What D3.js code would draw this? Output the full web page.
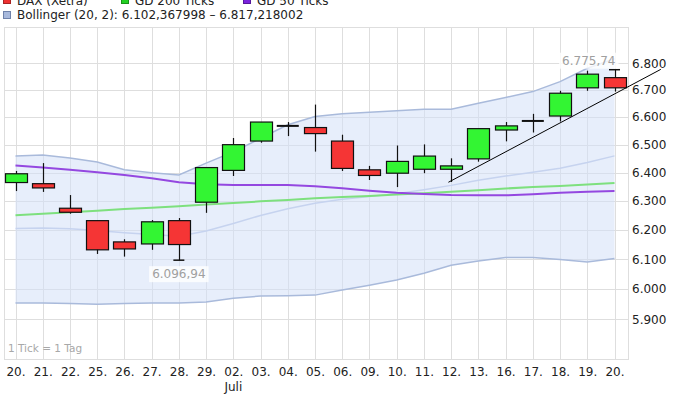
<!DOCTYPE html>
<html>
<head>
<meta charset="utf-8">
<script src="https://cdn.jsdelivr.net/npm/d3@7"></script>
<style>
  body { margin: 0; background: #fff; }
  svg { display: block; font-family: "DejaVu Sans", sans-serif; }
</style>
</head>
<body>
<div id="chart"></div>
<script>
// Trading days (20. Juni - 20. Juli)
const labels = ["20.", "21.", "22.", "25.", "26.", "27.", "28.", "29.", "02.", "03.", "04.", "05.",
                "06.", "09.", "10.", "11.", "12.", "13.", "16.", "17.", "18.", "19.", "20."];
const monthLabel = { index: 8, text: "Juli" };

// DAX candles
const open  = [6365, 6361, 6275, 6232, 6159, 6152, 6232, 6296, 6408, 6513, 6568, 6562,
               6513, 6410, 6398, 6412, 6412, 6449, 6553, 6586, 6604, 6708, 6746];
const high  = [6406, 6434, 6321, 6232, 6168, 6234, 6241, 6418, 6524, 6582, 6582, 6646,
               6536, 6424, 6497, 6501, 6451, 6558, 6582, 6612, 6697, 6772, 6775.74];
const low   = [6335, 6332, 6256, 6118, 6109, 6132, 6096.94, 6259, 6388, 6507, 6531, 6475,
               6406, 6374, 6349, 6398, 6367, 6439, 6512, 6544, 6584, 6697, 6694];
const close = [6396, 6346, 6261, 6132, 6135, 6228, 6150, 6418, 6500, 6582, 6568, 6540,
               6415, 6390, 6440, 6459, 6424, 6558, 6568, 6586, 6688, 6759, 6708];

// Bollinger (20, 2)
const bandUpper  = [6459, 6463, 6452, 6438, 6410, 6400, 6392, 6434, 6474, 6523, 6572, 6602,
                    6612, 6618, 6623, 6629, 6629, 6651, 6672, 6694, 6731, 6781, 6817.218002];
const bandMiddle = [6205, 6207, 6204, 6198, 6190, 6184, 6178, 6196, 6222, 6250, 6273, 6292,
                    6306, 6316, 6326, 6340, 6355, 6373, 6388, 6401, 6416, 6436, 6459.79];
const bandLower  = [5954, 5954, 5952, 5950, 5952, 5954, 5954, 5957, 5970, 5977, 5978, 5980,
                    5997, 6013, 6030, 6053, 6080, 6094, 6106, 6106, 6099, 6091, 6102.367998];

// Moving averages
const gd200 = [6251, 6256, 6261, 6266, 6272, 6277, 6282, 6288, 6293, 6299, 6304, 6310,
               6314, 6318, 6323, 6327, 6333, 6338, 6344, 6349, 6353, 6358, 6363];
const gd50  = [6425, 6418, 6410, 6401, 6392, 6380, 6366, 6359, 6356, 6356, 6356, 6352,
               6345, 6336, 6329, 6325, 6321, 6320, 6320, 6324, 6329, 6333, 6335];

// Trend line (index, value)
const trend = [[15.9, 6366], [23.7, 6777]];

const yTicks = [5900, 6000, 6100, 6200, 6300, 6400, 6500, 6600, 6700, 6800];
const legendNames = ["DAX (Xetra)", "GD 200 Ticks", "GD 50 Ticks"];
const tickNote = "1 Tick = 1 Tag";

// Dimensions
const width = 680, height = 394;
const plot = { left: 4, right: 628, top: 27, bottom: 359 };

const de = d3.formatLocale({ decimal: ",", thousands: ".", grouping: [3], currency: ["", " €"] });
const fmt0 = de.format(",.0f"), fmt2 = de.format(",.2f"), fmt6 = de.format(",.6f");

// Scales
const x = d3.scaleLinear().domain([0, labels.length - 1]).range([15.5, 614.5]);
const y = d3.scaleLog().domain([5772, 6938]).range([plot.bottom, plot.top]);

const svg = d3.select("#chart").append("svg")
    .attr("width", width)
    .attr("height", height);

// Grid
const grid = svg.append("g").attr("stroke", "#dedede").attr("stroke-width", 1);
grid.selectAll(".vgrid")
    .data(d3.range(labels.length))
  .enter().append("line")
    .attr("x1", i => Math.round(x(i)) + 0.5).attr("x2", i => Math.round(x(i)) + 0.5)
    .attr("y1", plot.top).attr("y2", plot.bottom);
grid.selectAll(".hgrid")
    .data(yTicks)
  .enter().append("line")
    .attr("x1", plot.left).attr("x2", plot.right)
    .attr("y1", d => Math.round(y(d)) + 0.5).attr("y2", d => Math.round(y(d)) + 0.5);
svg.append("rect")
    .attr("x", plot.left + 0.5).attr("y", plot.top + 0.5)
    .attr("width", plot.right - plot.left).attr("height", plot.bottom - plot.top)
    .attr("fill", "none").attr("stroke", "#dedede");

// Bollinger band
const idx = d3.range(labels.length);
svg.append("path")
    .datum(idx)
    .attr("fill", "#d4e0f7")
    .attr("fill-opacity", 0.55)
    .attr("d", d3.area().x(i => x(i)).y0(i => y(bandLower[i])).y1(i => y(bandUpper[i])));

const lineOf = arr => d3.line().x(i => x(i)).y(i => y(arr[i]));
[[bandUpper, "#a9badb"], [bandLower, "#a9badb"], [bandMiddle, "#c6d3ef"]].forEach(([arr, col]) => {
  svg.append("path").datum(idx)
      .attr("fill", "none").attr("stroke", col).attr("stroke-width", 1.5)
      .attr("d", lineOf(arr));
});

// Moving averages
svg.append("path").datum(idx)
    .attr("fill", "none").attr("stroke", "#7ee07e").attr("stroke-width", 2)
    .attr("d", lineOf(gd200));
svg.append("path").datum(idx)
    .attr("fill", "none").attr("stroke", "#9448e0").attr("stroke-width", 2)
    .attr("d", lineOf(gd50));

// Candles
const bodyW = 22;
const candle = svg.selectAll(".candle")
    .data(idx)
  .enter().append("g")
    .attr("class", "candle");

candle.append("line")
    .attr("x1", i => Math.round(x(i)) + 0.5).attr("x2", i => Math.round(x(i)) + 0.5)
    .attr("y1", i => y(high[i])).attr("y2", i => y(low[i]))
    .attr("stroke", "#111").attr("stroke-width", 1.2);

candle.filter(i => open[i] !== close[i]).append("rect")
    .attr("x", i => Math.round(x(i) - bodyW / 2) + 0.5)
    .attr("y", i => y(Math.max(open[i], close[i])))
    .attr("width", bodyW)
    .attr("height", i => Math.abs(y(open[i]) - y(close[i])))
    .attr("fill", i => close[i] > open[i] ? "#33f533" : "#f53535")
    .attr("stroke", "#111").attr("stroke-width", 1.2);

candle.filter(i => open[i] === close[i]).append("line")
    .attr("x1", i => x(i) - bodyW / 2).attr("x2", i => x(i) + bodyW / 2)
    .attr("y1", i => y(open[i])).attr("y2", i => y(open[i]))
    .attr("stroke", "#111").attr("stroke-width", 2);

// Trend line
svg.append("path").datum(trend)
    .attr("fill", "none").attr("stroke", "#000").attr("stroke-width", 1)
    .attr("d", d3.line().x(d => x(d[0])).y(d => y(d[1])));

// Period high / low markers
const iMax = d3.maxIndex(high), iMin = d3.minIndex(low);
[[iMax, high[iMax]], [iMin, low[iMin]]].forEach(([i, v]) => {
  svg.append("line")
      .attr("x1", x(i) - 5.5).attr("x2", x(i) + 5.5)
      .attr("y1", y(v)).attr("y2", y(v))
      .attr("stroke", "#111").attr("stroke-width", 1.5);
});

function markerLabel(px, py, text, anchor) {
  const t = svg.append("text")
      .attr("x", px).attr("y", py)
      .attr("text-anchor", anchor)
      .attr("font-size", 12)
      .attr("fill", "#a0a0a0")
      .text(text);
  const b = t.node().getBBox();
  svg.insert("rect", () => t.node())
      .attr("x", b.x - 3).attr("y", b.y - 1)
      .attr("width", b.width + 6).attr("height", b.height + 2)
      .attr("fill", "#fff").attr("fill-opacity", 0.8);
}
markerLabel(x(iMax) + 1, y(high[iMax]) - 5, fmt2(high[iMax]), "end");
markerLabel(x(iMin), y(low[iMin]) + 18, fmt2(low[iMin]), "middle");

// Axes
const yAxis = svg.append("g")
    .attr("transform", `translate(${plot.right},0)`)
    .call(d3.axisRight(y).tickValues(yTicks).tickSize(0).tickPadding(4).tickFormat(fmt0));
const xAxis = svg.append("g")
    .attr("transform", `translate(0,${plot.bottom})`)
    .call(d3.axisBottom(x).tickValues(idx).tickSize(0).tickPadding(8.5).tickFormat(i => labels[i]));
[yAxis, xAxis].forEach(g => {
  g.select(".domain").remove();
  g.attr("font-family", "DejaVu Sans, sans-serif").attr("font-size", 12);
  g.selectAll("text").attr("fill", "#222");
});

svg.append("text")
    .attr("x", x(monthLabel.index)).attr("y", 391)
    .attr("text-anchor", "middle")
    .attr("font-size", 12).attr("fill", "#222")
    .text(monthLabel.text);

svg.append("text")
    .attr("x", 8).attr("y", 352)
    .attr("font-size", 10.5).attr("fill", "#a8a8a8")
    .text(tickNote);

// Legend
const legendColors = ["#ee3030", "#22d022", "#7a22dd"];
const legendX = [3, 121, 243];
legendNames.forEach((name, k) => {
  svg.append("rect")
      .attr("x", legendX[k] + 0.5).attr("y", -3.5)
      .attr("width", 7).attr("height", 7)
      .attr("fill", legendColors[k]).attr("stroke", d3.color(legendColors[k]).darker(1));
  svg.append("text")
      .attr("x", legendX[k] + 14).attr("y", 4.5)
      .attr("font-size", 12).attr("fill", "#222")
      .text(name);
});
svg.append("rect")
    .attr("x", 3.5).attr("y", 11.5)
    .attr("width", 7).attr("height", 7)
    .attr("fill", "#a8b9dc").attr("stroke", "#6f82aa");
svg.append("text")
    .attr("x", 17).attr("y", 19)
    .attr("font-size", 12).attr("fill", "#222")
    .text(`Bollinger (20, 2): ${fmt6(bandLower[bandLower.length - 1])} – ${fmt6(bandUpper[bandUpper.length - 1])}`);
</script>
</body>
</html>
